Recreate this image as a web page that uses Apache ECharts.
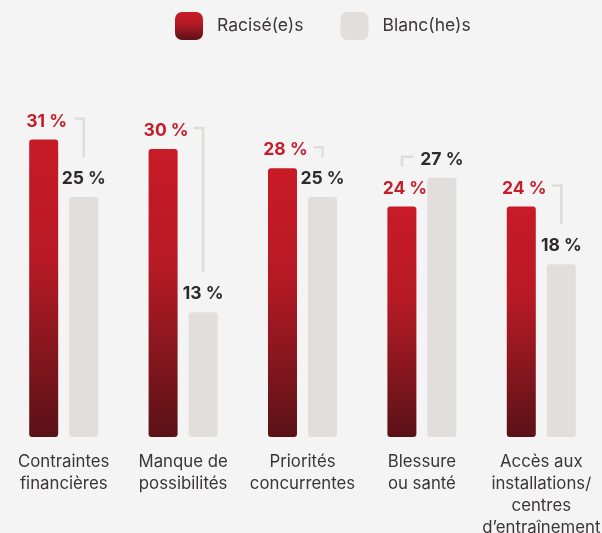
<!DOCTYPE html>
<html>
<head>
<meta charset="utf-8">
<style>
html,body{margin:0;padding:0;background:#f4f4f4;}
#chart{width:602px;height:533px;}
</style>
<script src="https://cdn.jsdelivr.net/npm/echarts@6/dist/echarts.min.js"></script>
</head>
<body>
<div id="chart"></div>
<script>
const categories = [
  'Contraintes\nfinancières',
  'Manque de\npossibilités',
  'Priorités\nconcurrentes',
  'Blessure\nou santé',
  'Accès aux\ninstallations/\ncentres\nd’entraînement'
];
const seriesNames = ['Racisé(e)s', 'Blanc(he)s'];
const racises = [31, 30, 28, 24, 24];
const blancs = [25, 13, 25, 27, 18];

const chart = echarts.init(document.getElementById('chart'));
const FONT = 'Inter, "Noto Sans", sans-serif';
const redGrad = new echarts.graphic.LinearGradient(0, 0, 0, 1, [
  {offset: 0, color: '#c81b27'},
  {offset: 0.4, color: '#b71a25'},
  {offset: 1, color: '#5a1217'}
]);
const connectorData = categories.map((c, i) => [i, racises[i], blancs[i]]);

chart.setOption({
  backgroundColor: '#f4f4f4',
  textStyle: {fontFamily: FONT},
  legend: {
    data: seriesNames,
    top: 7,
    left: 170,
    itemWidth: 28,
    itemHeight: 28,
    itemGap: 37,
    icon: 'roundRect',
    textStyle: {fontSize: 17.5, color: '#3a3636', fontFamily: FONT, padding: [0, 0, 0, 9]}
  },
  grid: {left: 4, right: 1, top: 101, bottom: 96, containLabel: false, outerBoundsMode: 'none'},
  xAxis: {
    type: 'category',
    data: categories,
    axisLine: {show: false},
    axisTick: {show: false},
    axisLabel: {interval: 0, fontSize: 16.8, lineHeight: 22, color: '#3a3636', margin: 14, fontFamily: FONT}
  },
  yAxis: {
    type: 'value', min: 0, max: 35, show: false,
    splitLine: {show: false}
  },
  series: [
    {
      name: seriesNames[0], type: 'bar', data: racises,
      barWidth: 29, barGap: '38%',
      itemStyle: {color: redGrad, borderRadius: 3},
      label: {show: true, position: 'top', distance: 9, offset: [3, 0],
        formatter: '{c} %', fontSize: 17.5, fontWeight: 'bold', color: '#c51d2a', fontFamily: FONT}
    },
    {
      name: seriesNames[1], type: 'bar', data: blancs,
      barWidth: 29,
      itemStyle: {color: '#e2dedb', borderRadius: 3},
      label: {show: true, position: 'top', distance: 9,
        formatter: '{c} %', fontSize: 17.5, fontWeight: 'bold', color: '#2e2a2a', fontFamily: FONT}
    },
    {
      type: 'custom', name: 'connector', data: connectorData,
      encode: {x: 0, y: 1},
      silent: true, z: 1,
      renderItem: function (params, api) {
        const i = api.value(0), r = api.value(1), w = api.value(2);
        const base = api.coord([i, 0]);
        const rx = base[0] - 20, wx = base[0] + 20;
        const yr = api.coord([i, r])[1], yw = api.coord([i, w])[1];
        let pts;
        if (r >= w) {
          pts = [[rx + 31, yr - 21], [wx, yr - 21], [wx, yw - 40]];
        } else {
          pts = [[wx - 28, yw - 21], [rx, yw - 21], [rx, yr - 40]];
        }
        return {type: 'polyline', shape: {points: pts},
          style: {stroke: '#e0dcd9', lineWidth: 2.5, fill: null}};
      }
    }
  ]
});
</script>
</body>
</html>
